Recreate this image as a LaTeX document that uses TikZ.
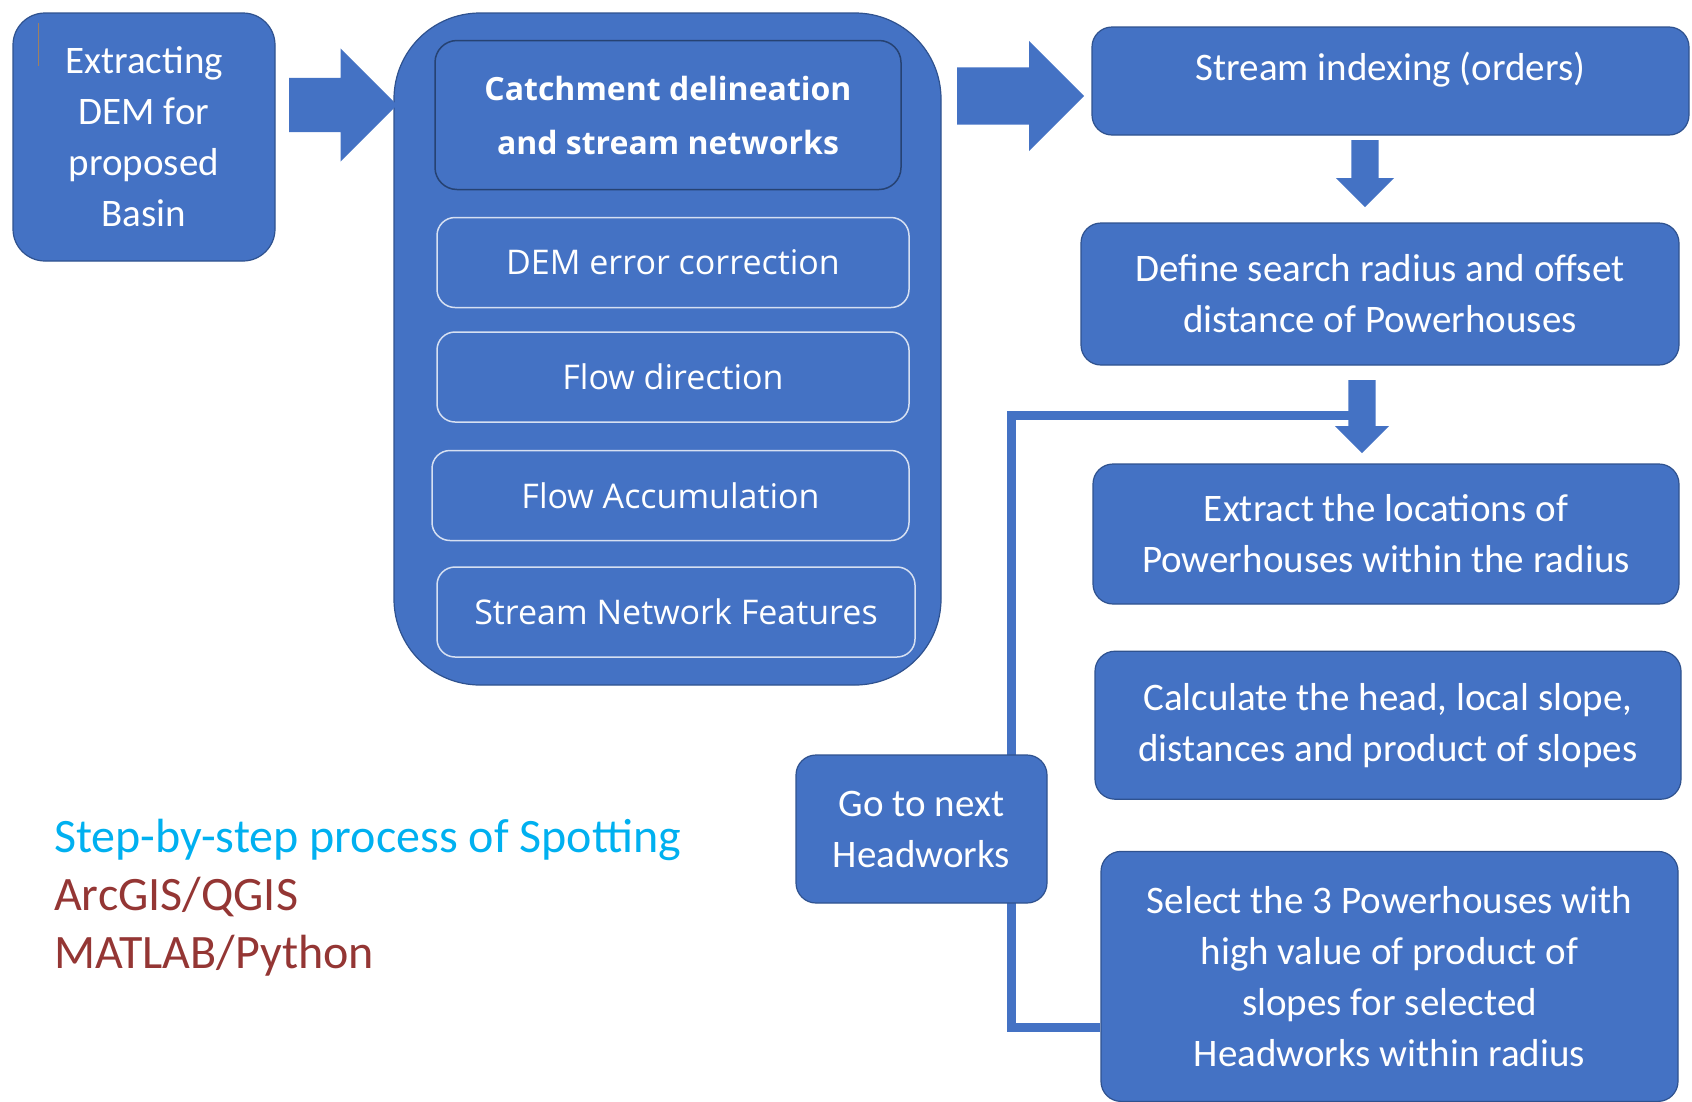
\documentclass[tikz,border=0pt]{standalone}
\usepackage{fontspec}
\setmainfont{Carlito}
\newfontfamily\winfont{Open Sans}
\usetikzlibrary{positioning, shapes.arrows, backgrounds, calc}

\definecolor{boxblue}{HTML}{4472C4}
\definecolor{boxedge}{HTML}{2F528F}
\definecolor{subedge}{HTML}{D6E0F2}
\definecolor{titlecyan}{HTML}{00B0F0}
\definecolor{tooldark}{HTML}{943634}

\begin{document}
\begin{tikzpicture}[x=1pt, y=-1pt,
	block/.style={draw=boxedge, line width=1.2pt, fill=boxblue, text=white, rounded corners=20pt, align=center, inner sep=0pt, font=\fontsize{39}{51}\selectfont},
	substep/.style={block, draw=subedge, line width=1.5pt, rounded corners=18pt, font=\winfont\fontsize{34}{48}\selectfont, minimum width=472pt, minimum height=90pt},
	fatarrow/.style={single arrow, fill=boxblue, anchor=tail, inner xsep=0pt, single arrow head indent=0pt},
	loopline/.style={boxblue, line width=9pt}
]

	\useasboundingbox (0,0) rectangle (1692,1101);

	\node[block, rounded corners=32pt, minimum width=262pt, minimum height=248pt, text depth=0pt] (dem) at (144,137) {Extracting\\DEM for\\proposed\\Basin};
	\draw[line width=1.5pt, brown!50!gray] ($(dem.north west)+(26,11)$) -- ++(0,43);

	\node[block, rounded corners=86pt, minimum width=547pt, minimum height=672pt] (basin) at (667.5,349) {};
	\node[block, draw=boxedge!80!black, line width=1.5pt, rounded corners=22pt, minimum width=466pt, minimum height=149pt, font=\winfont\bfseries\fontsize{32}{54}\selectfont] (catch) at (668,115) {Catchment delineation\\and stream networks};
	\node[substep, below=26.5pt of catch, xshift=5pt] (demfix) {DEM error correction};
	\node[substep, below=23pt of demfix] (flowdir) {Flow direction};
	\node[substep, below=27pt of flowdir, xshift=-2.5pt, minimum width=477pt] (flowacc) {Flow Accumulation};
	\node[substep, below=25pt of flowacc, xshift=5.5pt, minimum width=478pt] (netfeat) {Stream Network Features};

	\node[block, minimum width=597pt, minimum height=108pt, text depth=30pt] (order) at (1390.5,81) {Stream indexing (orders)};
	\node[block, minimum width=598pt, minimum height=142pt] (radius) at (1380,294) {Define search radius and offset\\distance of Powerhouses};
	\node[block, minimum width=586pt, minimum height=140pt] (locate) at (1386,534) {Extract the  locations of\\Powerhouses within the radius};
	\node[block, below=46pt of locate, xshift=2pt, minimum width=586pt, minimum height=148pt] (slopes) {Calculate the head, local slope,\\distances  and product of slopes};
	\node[block, below=51pt of slopes, xshift=1.5pt, minimum width=577pt, minimum height=250pt] (pick) {Select the 3 Powerhouses with\\high value of  product of\\slopes  for selected\\Headworks within radius};
	\node[block, minimum width=251pt, minimum height=148pt] (next) at (921.5,829) {Go to next\\Headworks};

	\node[fatarrow, minimum height=108pt, inner ysep=27pt, single arrow head extend=29.5pt] (a1) at (289,105) {};
	\node[fatarrow, minimum height=127pt, inner ysep=28.5pt, single arrow head extend=26.5pt] (a2) at (957,96) {};
	\node[fatarrow, rotate=-90, minimum height=67pt, inner ysep=13.5pt, single arrow head extend=15.5pt] (a3) at (1365,140) {};
	\node[fatarrow, rotate=-90, minimum height=73pt, inner ysep=13.5pt, single arrow head extend=13.5pt] (a4) at (1362,380) {};

	\coordinate (turn) at (1011,415);
	\begin{scope}[on background layer]
		\draw[loopline] ($(pick.west)+(0,51)$) -| (turn) -- (turn -| a4);
	\end{scope}

	\node[anchor=west, align=left, inner sep=0pt, font=\fontsize{48}{58}\selectfont] (tools) at (54,898) {\textcolor{titlecyan}{Step-by-step process of Spotting}\\\textcolor{tooldark}{ArcGIS/QGIS}\\\textcolor{tooldark}{MATLAB/Python}};

\end{tikzpicture}
\end{document}
